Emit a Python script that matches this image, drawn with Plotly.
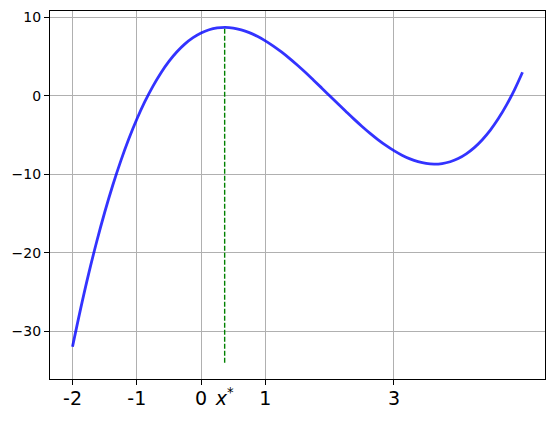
import plotly.graph_objects as go

# Curve values
x_vals = [-2.0, -1.875, -1.75, -1.625, -1.5, -1.375, -1.25, -1.125, -1.0, -0.875,
          -0.75, -0.625, -0.5, -0.375, -0.25, -0.125, 0.0, 0.125, 0.25, 0.375,
          0.5, 0.625, 0.75, 0.875, 1.0, 1.125, 1.25, 1.375, 1.5, 1.625,
          1.75, 1.875, 2.0, 2.125, 2.25, 2.375, 2.5, 2.625, 2.75, 2.875,
          3.0, 3.125, 3.25, 3.375, 3.5, 3.625, 3.75, 3.875, 4.0, 4.125,
          4.25, 4.375, 4.5, 4.625, 4.75, 4.875, 5.0]
y_vals = [-32.0, -27.19, -22.73, -18.64, -14.88, -11.44, -8.33, -5.52, -3.0, -0.76,
          1.2, 2.91, 4.38, 5.6, 6.61, 7.4, 8.0, 8.41, 8.64, 8.71,
          8.63, 8.4, 8.05, 7.58, 7.0, 6.33, 5.58, 4.76, 3.88, 2.95,
          1.98, 1.0, 0.0, -1.0, -1.98, -2.95, -3.88, -4.76, -5.58, -6.33,
          -7.0, -7.58, -8.05, -8.4, -8.63, -8.71, -8.64, -8.41, -8.0, -7.4,
          -6.61, -5.6, -4.38, -2.91, -1.2, 0.76, 3.0]

# Marked point x*
x_star = 0.367
y_star_top = 8.71
y_star_bottom = -34.04

# Ticks
x_tickvals = [-2, -1, 0, 1, 3]
x_ticktext = ["-2", "-1", "0", "1", "3"]
x_star_label = "<i>x</i><sup>*</sup>"
y_tickvals = [-30, -20, -10, 0, 10]

FONT = "DejaVu Sans"
X_RANGE = [-2.35, 5.35]

fig = go.Figure()
fig.add_trace(go.Scatter(
    x=x_vals, y=y_vals, mode="lines",
    line=dict(color="rgba(0,0,255,0.8)", width=2.8, shape="spline", smoothing=1.0),
    showlegend=False, hoverinfo="skip"))
fig.add_trace(go.Scatter(
    x=[x_star, x_star], y=[y_star_bottom, y_star_top], mode="lines",
    line=dict(color="#008000", width=1.4, dash="5px,2px"),
    showlegend=False, hoverinfo="skip"))

axis_common = dict(
    showline=True, linecolor="black", linewidth=1.1, mirror=True,
    ticks="outside", ticklen=5, tickwidth=1.1, tickcolor="black",
    showgrid=True, gridcolor="#b0b0b0", gridwidth=1.1, zeroline=False)

fig.update_layout(
    xaxis=dict(range=X_RANGE, tickmode="array", tickvals=x_tickvals,
               ticktext=x_ticktext, ticklabelstandoff=-3,
               tickfont=dict(family=FONT, size=19, color="black"), **axis_common),
    xaxis2=dict(range=X_RANGE, overlaying="x", anchor="y", side="bottom",
                tickmode="array", tickvals=[x_star], ticktext=[x_star_label],
                ticks="outside", ticklen=5, tickcolor="rgba(0,0,0,0)",
                ticklabelstandoff=-3, showgrid=False, showline=False, zeroline=False,
                tickfont=dict(family=FONT, size=19, color="black")),
    yaxis=dict(range=[-36.1, 10.8], tickmode="array", tickvals=y_tickvals,
               tickfont=dict(family=FONT, size=14, color="black"), **axis_common),
)

# invisible helper trace so the second x axis is drawn
fig.add_trace(go.Scatter(x=[x_star], y=[y_star_top], xaxis="x2", yaxis="y",
                         mode="markers", marker=dict(opacity=0),
                         showlegend=False, hoverinfo="skip"))

# page body has an 8px default margin, so the figure is sized to fit the window
fig.update_layout(
    width=547, height=413,
    margin=dict(l=41.5, r=9.7, t=2.5, b=41.7, pad=0),
    paper_bgcolor="white", plot_bgcolor="white",
    font=dict(family=FONT))

fig.write_html("out.html")
